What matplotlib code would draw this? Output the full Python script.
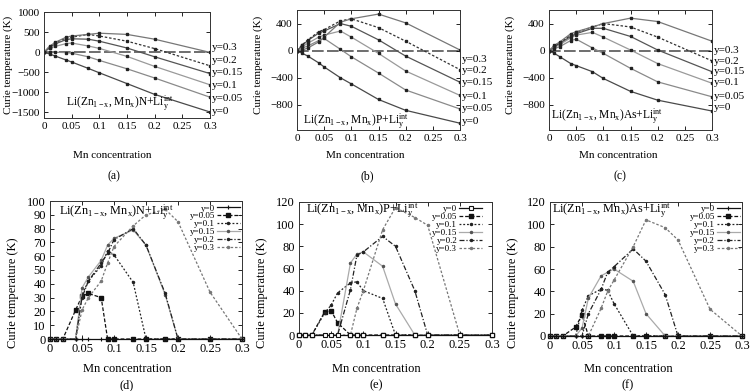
import matplotlib
matplotlib.use("Agg")
import matplotlib.pyplot as plt
import numpy as np

plt.rcParams['font.family'] = ['Liberation Serif', 'DejaVu Serif']
plt.rcParams['mathtext.fontset'] = 'custom'
plt.rcParams['mathtext.rm'] = 'Liberation Serif'
plt.rcParams['mathtext.it'] = 'Liberation Serif:italic'

# ---------------- data: top row (mean-field Tc, may be negative) ----------------
y_labels = ["y=0", "y=0.05", "y=0.1", "y=0.15", "y=0.2", "y=0.3"]
x_top = [0, 0.01, 0.02, 0.04, 0.05, 0.08, 0.1, 0.15, 0.2, 0.3]

a_y0 = [0, -50, -100, -200, -250, -410, -520, -790, -1060, -1500]
a_y005 = [0, 0, -5, -15, -30, -120, -210, -420, -650, -1130]
a_y01 = [0, 90, 140, 210, 225, 150, 90, -110, -360, -820]
a_y015 = [0, 110, 200, 310, 330, 320, 270, 100, -120, -540]
a_y02 = [0, 130, 230, 350, 370, 440, 400, 270, 85, -345]
a_y03 = [0, 140, 240, 370, 400, 440, 470, 440, 320, -10]

b_y0 = [0, -40, -80, -180, -240, -400, -490, -720, -880, -1070]
b_y005 = [0, 40, 70, 150, 180, 20, -90, -330, -580, -860]
b_y01 = [0, 60, 110, 200, 230, 290, 200, -40, -300, -660]
b_y015 = [0, 80, 150, 260, 290, 400, 360, 160, -80, -465]
b_y02 = [0, 90, 160, 280, 310, 440, 470, 340, 140, -280]
b_y03 = [0, 10, 40, 130, 200, 420, 470, 540, 410, 10]

c_y0 = [0, -40, -90, -190, -220, -310, -410, -600, -730, -890]
c_y005 = [0, 30, 60, 150, 170, 40, -40, -260, -460, -680]
c_y01 = [0, 50, 90, 190, 230, 270, 200, 10, -190, -480]
c_y015 = [0, 60, 110, 210, 250, 330, 330, 210, 10, -310]
c_y02 = [0, 70, 120, 230, 270, 350, 400, 350, 200, -150]
c_y03 = [0, 80, 130, 250, 280, 350, 400, 480, 430, 140]

# right-hand label positions (K) for top row
a_lab_pos = [-1490, -1165, -835, -515, -215, 105]
b_lab_pos = [-1045, -846, -674, -467, -295, -133]
c_lab_pos = [-840, -681, -474, -311, -153, 0]

# ---------------- data: bottom row (Monte-Carlo Tc) ----------------
x_bot = [0, 0.01, 0.02, 0.04, 0.05, 0.06, 0.08, 0.09, 0.1, 0.13, 0.15, 0.18, 0.2, 0.25, 0.3]

d_y0 = [0, 0, 0, 0, 0, 0, 0, 0, 0, 0, 0, 0, 0, 0, 0]
d_y005 = [0, 0, 0, 21, 31, 33, 30, 0, 0, 0, 0, 0, 0, 0, 0]
d_y01 = [0, 0, 0, 0, 32, 42, 53, 64, 61, 41, 0, 0, 0, 0, 0]
d_y015 = [0, 0, 0, 0, 37, 45, 57, 68, 73, 79, 68, 32, 0, 0, 0]
d_y02 = [0, 0, 0, 0, 30, 42, 55, 62, 72, 80, 68, 33, 0, 0, 0]
d_y03 = [0, 0, 0, 0, 21, 30, 42, 55, 67, 82, 90, 94, 85, 34, 0]

e_y0 = [0, 0, 0, 0, 0, 0, 0, 0, 0, 0, 0, 0, 0, 0, 0]
e_y005 = [0, 0, 0, 21, 22, 11, 0, 0, 0, 0, 0, 0, 0, 0, 0]
e_y01 = [0, 0, 0, 20, 27, 38, 47, 48, 40, 33, 0, 0, 0, 0, 0]
e_y015 = [0, 0, 0, 0, 0, 0, 65, 73, 75, 62, 28, 0, 0, 0, 0]
e_y02 = [0, 0, 0, 0, 0, 0, 41, 72, 75, 89, 80, 40, 0, 0, 0]
e_y03 = [0, 0, 0, 0, 0, 0, 0, 24, 40, 95, 115, 106, 99, 0, 0]

f_y0 = [0, 0, 0, 0, 0, 0, 0, 0, 0, 0, 0, 0, 0, 0, 0]
f_y005 = [0, 0, 0, 8, 19, 0, 0, 0, 0, 0, 0, 0, 0, 0, 0]
f_y01 = [0, 0, 0, 0, 23, 36, 42, 41, 29, 0, 0, 0, 0, 0, 0]
f_y015 = [0, 0, 0, 0, 7, 34, 54, 57, 60, 49, 20, 0, 0, 0, 0]
f_y02 = [0, 0, 0, 0, 0, 20, 42, 57, 62, 78, 67, 37, 0, 0, 0]
f_y03 = [0, 0, 0, 0, 0, 0, 25, 40, 50, 80, 104, 97, 86, 24, 0]

x_ticks = [0, 0.05, 0.1, 0.15, 0.2, 0.25, 0.3]
x_ticklabels = ["0", "0.05", "0.1", "0.15", "0.2", "0.25", "0.3"]

titles = [r"Li(Zn$_{\mathrm{1-x}}$, Mn$_{\mathrm{x}}$)N+Li$_{\mathrm{y}}^{\mathrm{int}}$",
          r"Li(Zn$_{\mathrm{1-x}}$, Mn$_{\mathrm{x}}$)P+Li$_{\mathrm{y}}^{\mathrm{int}}$",
          r"Li(Zn$_{\mathrm{1-x}}$, Mn$_{\mathrm{x}}$)As+Li$_{\mathrm{y}}^{\mathrm{int}}$"]

W, H = 751, 391
fig = plt.figure(figsize=(W / 100, H / 100), dpi=100)


def add_ax(l, t, r, b):
    return fig.add_axes([l / W, 1 - b / H, (r - l) / W, (b - t) / H])


def ftext(x, y, s, **kw):
    fig.text(x / W, 1 - y / H, s, **kw)


def style_ax(ax, fs):
    ax.tick_params(direction='in', top=True, right=True, length=3, width=0.6,
                   labelsize=fs, pad=3)
    for sp in ax.spines.values():
        sp.set_linewidth(0.7)
        sp.set_color('#333333')


# ---------------- top row ----------------
top_boxes = [(44, 12, 210, 118), (297, 10, 460, 130), (549, 10, 712, 130)]
top_data = [[a_y0, a_y005, a_y01, a_y015, a_y02, a_y03],
            [b_y0, b_y005, b_y01, b_y015, b_y02, b_y03],
            [c_y0, c_y005, c_y01, c_y015, c_y02, c_y03]]
top_lab = [a_lab_pos, b_lab_pos, c_lab_pos]
top_ylim = [(-1650, 1000), (-1170, 600), (-1170, 600)]
top_yticks = [[-1500, -1000, -500, 0, 500, 1000], [-800, -400, 0, 400], [-800, -400, 0, 400]]
top_title_pos = [(120, 103), (356, 121), (607, 116)]
top_xlabel_pos = [112, 365, 618]
top_panel = ["(a)", "(b)", "(c)"]
top_colors = ['#4a4a4a', '#8a8a8a', '#9a9a9a', '#555555', '#333333', '#777777']
top_ls = ['-', '-', '-', '-', (0, (2, 1.5)), '-']

for i, (box, series) in enumerate(zip(top_boxes, top_data)):
    ax = add_ax(*box)
    ax.axhline(0, color='#555555', lw=1.2, dashes=(7, 2), zorder=1)
    for k, ys in enumerate(series):
        ax.plot(x_top, ys, color=top_colors[k], ls=top_ls[k], lw=0.9,
                marker='s', ms=1.8, mfc='#222222', mec='#222222', zorder=2)
        ax.text(1.012, top_lab[i][k], y_labels[k],
                transform=ax.get_yaxis_transform(), fontsize=8, va='center', ha='left',
                clip_on=False)
    ax.set_xlim(0, 0.3)
    ax.set_ylim(*top_ylim[i])
    ax.set_xticks(x_ticks)
    ax.set_xticklabels(x_ticklabels)
    ax.set_yticks(top_yticks[i])
    style_ax(ax, 8)
    ftext(top_title_pos[i][0], top_title_pos[i][1], titles[i], fontsize=8.3,
          ha='center', va='center')
    ftext(top_xlabel_pos[i], 155, "Mn concentration", fontsize=8, ha='center', va='center')
    ftext(top_xlabel_pos[i] + 2, 176, top_panel[i], fontsize=8.5, ha='center', va='center')
    ftext(box[0] - 36 if i == 0 else box[0] - 39, 65, "Curie temperature (K)", fontsize=8,
          rotation=90, ha='center', va='center')

# ---------------- bottom row ----------------
bot_boxes = [(50, 201, 242, 339), (299, 202, 492, 335), (550, 202, 742, 336)]
bot_data = [[d_y0, d_y005, d_y01, d_y015, d_y02, d_y03],
            [e_y0, e_y005, e_y01, e_y015, e_y02, e_y03],
            [f_y0, f_y005, f_y01, f_y015, f_y02, f_y03]]
bot_ylim = [(0, 100), (0, 120), (0, 120)]
bot_yticks = [list(range(0, 101, 10)), list(range(0, 121, 20)), list(range(0, 121, 20))]
bot_title_pos = [(116, 212), (362, 210), (612, 210)]
bot_xlabel_pos = [127, 376, 628]
bot_panel = ["(d)", "(e)", "(f)"]
bot_leg_anchor = [(1.0, 0.99), (0.96, 0.99), (1.0, 0.99)]

bot_styles = [
    dict(color='#111111', ls='-', marker='+', ms=3, mew=0.8),
    dict(color='#111111', ls=(0, (3, 1.5)), marker='s', ms=2.6, mfc='#111111'),
    dict(color='#222222', ls=(0, (1.5, 1.5)), marker='o', ms=1.5),
    dict(color='#aaaaaa', ls='-', marker='o', ms=1.5, mfc='#555555', mec='#555555'),
    dict(color='#222222', ls=(0, (4, 1.5, 1, 1.5)), marker='o', ms=1.5),
    dict(color='#777777', ls=(0, (2, 1.5)), marker='o', ms=1.5),
]

for i, (box, series) in enumerate(zip(bot_boxes, bot_data)):
    ax = add_ax(*box)
    handles = []
    for k, ys in enumerate(series):
        st = dict(bot_styles[k])
        if i == 1 and k == 0:
            st.update(marker='s', ms=2.6, mfc='white', mec='#111111')
        h, = ax.plot(x_bot, ys, lw=0.9, clip_on=False, zorder=3 + (k == 0), **st)
        handles.append(h)
    ax.set_xlim(0, 0.3)
    ax.set_ylim(*bot_ylim[i])
    ax.set_xticks(x_ticks)
    ax.set_xticklabels(x_ticklabels)
    ax.set_yticks(bot_yticks[i])
    style_ax(ax, 9)
    leg = ax.legend(handles, y_labels, loc='upper right', bbox_to_anchor=bot_leg_anchor[i],
                    frameon=False, markerfirst=False, fontsize=6.5, handlelength=2.6,
                    handletextpad=0.2, labelspacing=-0.05, borderaxespad=0.1,
                    borderpad=0.1)
    for t in leg.get_texts():
        t.set_ha('right')
    ftext(bot_title_pos[i][0], bot_title_pos[i][1], titles[i], fontsize=8.8,
          ha='center', va='center')
    ftext(bot_xlabel_pos[i], 369, "Mn concentration", fontsize=9, ha='center', va='center')
    ftext(bot_xlabel_pos[i], 385, bot_panel[i], fontsize=9, ha='center', va='center')
    ftext(box[0] - 37, 293, "Curie temperature (K)", fontsize=9,
          rotation=90, ha='center', va='center')

fig.savefig("out.png", dpi=100)
